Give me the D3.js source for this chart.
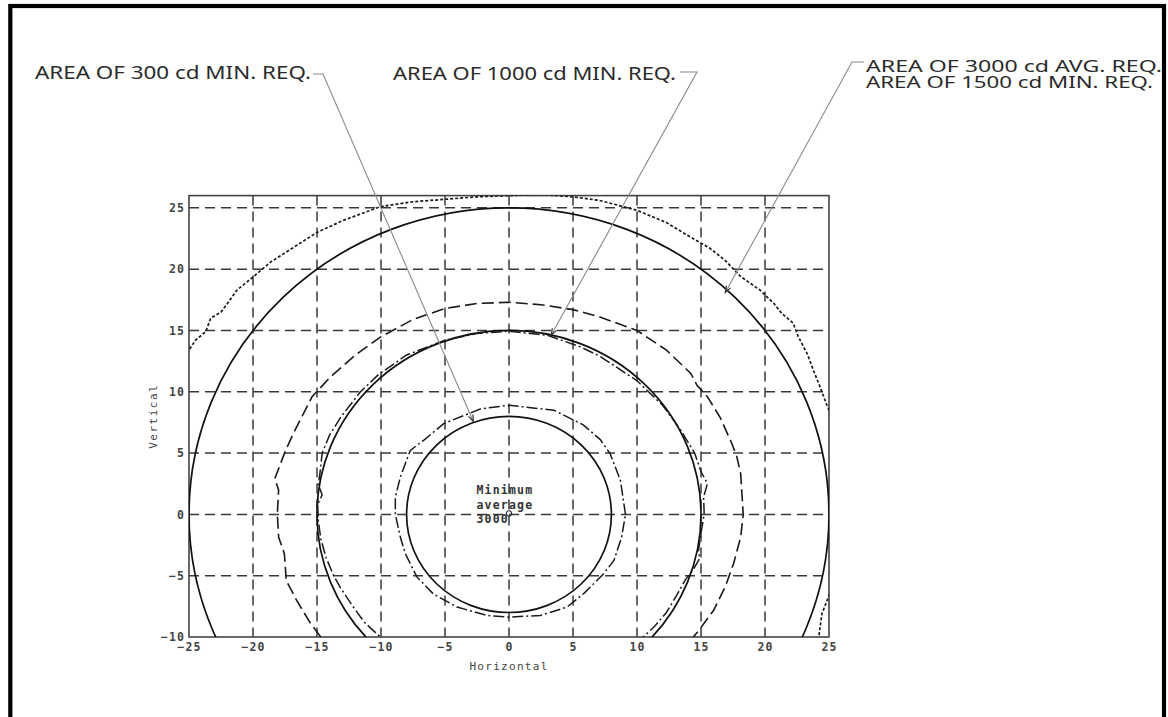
<!DOCTYPE html>
<html>
<head>
<meta charset="utf-8">
<script src="https://cdn.jsdelivr.net/npm/d3@7"></script>
<style>
  html, body { margin: 0; padding: 0; background: #fff; }
  svg { display: block; }
</style>
</head>
<body>
<svg id="chart" width="1168" height="717"></svg>
<script>
// Axis ticks (degrees)
const xTicks = [-25, -20, -15, -10, -5, 0, 5, 10, 15, 20, 25];
const yTicks = [-10, -5, 0, 5, 10, 15, 20, 25];
const xDomain = [-25, 25];
const yDomain = [-10, 26];

// Requirement circles (radius in degrees)
const requirementRadii = [25, 15, 8];

// Measured iso-candela contours [horizontal, vertical]
const contourOuter = [
  [-26.3, 11.0], [-25.0, 13.4], [-24.5, 14.2], [-23.7, 14.9], [-23.3, 16.0], [-22.5, 16.5],
  [-22.0, 17.2], [-21.25, 18.3], [-19.95, 19.4], [-18.6, 20.6], [-16.8, 21.8], [-15.0, 23.0],
  [-12.9, 24.0], [-10.05, 25.1], [-7.5, 25.5], [-5.0, 25.7], [-2.5, 25.9], [0, 26.0],
  [2.5, 26.1], [5.0, 25.9], [7.1, 25.6], [10.0, 24.8], [12.3, 23.8], [14.2, 22.6],
  [15.7, 21.7], [16.9, 20.7], [18.1, 19.4], [19.6, 18.3], [20.7, 17.2], [21.3, 16.4],
  [22.2, 15.6], [22.6, 14.5], [23.3, 13.1], [23.8, 11.7], [24.3, 10.4], [24.8, 9.0],
  [25.6, 7.0], [26.1, 3.0], [26.2, 0], [25.9, -3.5], [25.0, -6.6], [24.45, -8.1],
  [24.2, -10.0], [24.0, -11.0]
];
const contourMiddle = [
  [-13.8, -11.0], [-14.7, -10.0], [-15.5, -8.9], [-16.6, -7.0], [-17.4, -5.4], [-17.55, -3.2],
  [-18.0, -1.85], [-18.1, 0], [-18.0, 2.0], [-18.3, 2.9], [-17.5, 5.1], [-16.85, 6.6],
  [-15.4, 9.57], [-13.96, 11.2], [-12.0, 13.0], [-10.05, 14.46], [-7.5, 15.9], [-5.0, 16.8],
  [-2.5, 17.2], [0, 17.3], [2.5, 17.1], [5.0, 16.7], [7.1, 16.1], [10.0, 15.0],
  [12.3, 13.4], [14.2, 11.5], [14.7, 10.5], [15.5, 9.6], [16.5, 7.9], [17.4, 5.8],
  [17.8, 4.7], [18.1, 3.3], [18.3, 0], [18.1, -1.85], [17.55, -4.0], [16.9, -5.9],
  [16.0, -7.8], [14.8, -9.5], [14.4, -10.0], [13.8, -11.0]
];
const contourRing15 = [
  [-9.4, -10.8], [-10.05, -10.0], [-11.3, -8.8], [-12.2, -7.5], [-13.1, -6.1], [-13.7, -5.0],
  [-14.3, -3.5], [-14.7, -2.0], [-14.9, -0.5], [-14.95, 0.8], [-14.6, 1.6], [-14.9, 2.4],
  [-14.75, 3.5], [-14.6, 5.0], [-14.0, 6.5], [-13.1, 8.0], [-11.6, 10.0], [-10.2, 11.4],
  [-8.0, 13.0], [-5.0, 14.2], [-2.5, 14.75], [0, 14.95], [3.0, 14.6], [5.5, 13.7],
  [7.1, 12.9], [10.0, 10.9], [12.0, 8.9], [13.4, 6.9], [14.5, 5.0], [15.0, 3.5],
  [15.5, 2.5], [15.2, 1.4], [15.25, 0], [15.0, -1.5], [14.8, -3.0], [14.9, -3.6],
  [14.4, -4.5], [13.8, -5.3], [13.1, -6.6], [12.3, -8.0], [11.4, -9.1], [10.5, -10.0],
  [9.8, -10.8]
];
const contourRing9 = [
  [9.1, 0], [8.7, 2.8], [7.9, 4.95], [7.13, 6.1], [5.8, 7.3], [3.5, 8.5], [0, 8.9],
  [-2.24, 8.6], [-5.1, 7.4], [-6.67, 6.04], [-7.71, 5.22], [-8.49, 3.04], [-8.88, 1.41],
  [-8.88, 0], [-8.49, -1.85], [-8.1, -3.2], [-7.2, -5.1], [-5.9, -6.5], [-4.06, -7.56],
  [-1.72, -8.24], [0, -8.38], [2.45, -8.24], [4.53, -7.56], [5.9, -6.4], [7.4, -4.84],
  [8.2, -3.75], [8.8, -1.85]
];

// Centre annotation
const centreLines = ["Minimum", "average", "3000"];
const centrePoint = [0, 0];

// Callout labels and the point on the curve each one points to
const calloutLines = [
  ["AREA OF 300 cd MIN. REQ."],
  ["AREA OF 1000 cd MIN. REQ."],
  ["AREA OF 3000 cd AVG. REQ.", "AREA OF 1500 cd MIN. REQ."]
];
const calloutTargets = [[-2.79, 7.58], [3.3, 14.63], [16.9, 18.1]];

const svg = d3.select("#chart");
const H = 717;

// Page frame
svg.append("rect")
  .attr("x", 10.3).attr("y", 6).attr("width", 1153.7).attr("height", H + 20)
  .attr("fill", "none").attr("stroke", "#000").attr("stroke-width", 4.2);

const plot = { left: 189, right: 829, top: 195.6, bottom: 637 };
const x = d3.scaleLinear().domain(xDomain).range([plot.left, plot.right]);
const y = d3.scaleLinear().domain(yDomain).range([plot.bottom, plot.top]);

svg.append("defs").append("clipPath").attr("id", "plotClip")
  .append("rect")
  .attr("x", plot.left).attr("y", plot.top)
  .attr("width", plot.right - plot.left).attr("height", plot.bottom - plot.top);

const monoFont = "'DejaVu Sans Mono', 'Liberation Mono', monospace";
const inkGrey = "#3a3a3a";

// Grid
const grid = svg.append("g").attr("class", "grid");
grid.selectAll("line.v").data(xTicks.filter(d => d > xDomain[0] && d < xDomain[1]))
  .join("line").attr("class", "v")
  .attr("x1", d => x(d)).attr("x2", d => x(d))
  .attr("y1", plot.top).attr("y2", plot.bottom)
  .attr("stroke", inkGrey).attr("stroke-width", 1.5).attr("stroke-dasharray", "10,6");
grid.selectAll("line.h").data(yTicks.filter(d => d > yDomain[0]))
  .join("line").attr("class", "h")
  .attr("x1", plot.left).attr("x2", plot.right)
  .attr("y1", d => y(d)).attr("y2", d => y(d))
  .attr("stroke", inkGrey).attr("stroke-width", 1.5).attr("stroke-dasharray", "10,6");

// Axes
const xAxis = d3.axisBottom(x).tickValues(xTicks).tickSize(0).tickPadding(6);
const yAxis = d3.axisLeft(y).tickValues(yTicks).tickSize(0).tickPadding(4);
const gx = svg.append("g").attr("transform", `translate(0,${plot.bottom})`).call(xAxis);
const gy = svg.append("g").attr("transform", `translate(${plot.left},0)`).call(yAxis);
[gx, gy].forEach(g => {
  g.select(".domain").remove();
  g.selectAll("text")
    .attr("font-family", monoFont).attr("font-size", 11.5).attr("font-weight", "bold")
    .attr("letter-spacing", 1.1).attr("fill", "#444");
});

// Plot frame
svg.append("rect")
  .attr("x", plot.left).attr("y", plot.top)
  .attr("width", plot.right - plot.left).attr("height", plot.bottom - plot.top)
  .attr("fill", "none").attr("stroke", "#444").attr("stroke-width", 1.6);

// Axis titles
svg.append("text")
  .attr("x", x(0)).attr("y", 670).attr("text-anchor", "middle")
  .attr("font-family", monoFont).attr("font-size", 11).attr("letter-spacing", 1.3)
  .attr("fill", "#444").text("Horizontal");
svg.append("text")
  .attr("transform", `translate(157,${y(8.0)}) rotate(-90)`).attr("text-anchor", "middle")
  .attr("font-family", monoFont).attr("font-size", 11).attr("letter-spacing", 1.5)
  .attr("fill", "#444").text("Vertical");

// Curves
const curves = svg.append("g").attr("clip-path", "url(#plotClip)");
const lineGen = d3.line().x(d => x(d[0])).y(d => y(d[1]));
const closedGen = d3.line().x(d => x(d[0])).y(d => y(d[1])).curve(d3.curveLinearClosed);

curves.selectAll("ellipse.req").data(requirementRadii).join("ellipse")
  .attr("class", "req")
  .attr("cx", x(0)).attr("cy", y(0))
  .attr("rx", d => x(d) - x(0)).attr("ry", d => y(0) - y(d))
  .attr("fill", "none").attr("stroke", "#111").attr("stroke-width", 1.7);

curves.append("path").attr("d", lineGen(contourOuter))
  .attr("fill", "none").attr("stroke", "#1a1a1a").attr("stroke-width", 1.7)
  .attr("stroke-dasharray", "3,2");
curves.append("path").attr("d", lineGen(contourMiddle))
  .attr("fill", "none").attr("stroke", "#1a1a1a").attr("stroke-width", 1.6)
  .attr("stroke-dasharray", "12,5");
curves.append("path").attr("d", lineGen(contourRing15))
  .attr("fill", "none").attr("stroke", "#1a1a1a").attr("stroke-width", 1.5)
  .attr("stroke-dasharray", "11,3,2,3");
curves.append("path").attr("d", closedGen(contourRing9))
  .attr("fill", "none").attr("stroke", "#1a1a1a").attr("stroke-width", 1.5)
  .attr("stroke-dasharray", "11,3,2,3");

// Centre annotation
const centre = svg.append("g");
centre.selectAll("text").data(centreLines).join("text")
  .attr("x", x(centrePoint[0]) - 32.5)
  .attr("y", (d, i) => y(centrePoint[1]) - 20 + i * 14.5)
  .attr("font-family", monoFont).attr("font-size", 11.5).attr("font-weight", "bold")
  .attr("letter-spacing", 1.2).attr("fill", "#333").text(d => d);
centre.append("circle")
  .attr("cx", x(centrePoint[0])).attr("cy", y(centrePoint[1]) - 1).attr("r", 2.6)
  .attr("fill", "none").attr("stroke", "#333").attr("stroke-width", 1.1);

// Callouts: label text, leader line and a small tip at the curve
const labelFont = "'Noto Sans', 'DejaVu Sans', sans-serif";
const calloutLayout = [
  { x: 35, y: 79, size: 17.5, widths: [276], leader: [[313, 74], [323, 74]] },
  { x: 393, y: 80, size: 17.5, widths: [283], leader: [[680, 72], [697, 72]] },
  { x: 866, y: 71.5, size: 16.5, widths: [296, 287], leader: [[864, 62], [852, 62]] }
];
const callouts = svg.append("g");
calloutLines.forEach((lines, i) => {
  const lay = calloutLayout[i];
  const t = callouts.append("text")
    .attr("font-family", labelFont).attr("font-size", lay.size)
    .attr("fill", "#2a2a2a");
  lines.forEach((line, j) => {
    t.append("tspan")
      .attr("x", lay.x).attr("y", lay.y + j * 16.5)
      .attr("textLength", lay.widths[j]).attr("lengthAdjust", "spacingAndGlyphs")
      .text(line);
  });
  const target = calloutTargets[i];
  const pts = lay.leader.concat([[x(target[0]), y(target[1])]]);
  callouts.append("path")
    .attr("d", d3.line()(pts))
    .attr("fill", "none").attr("stroke", "#8a8a8a").attr("stroke-width", 1.1);
  const [px, py] = pts[pts.length - 1];
  const [qx, qy] = pts[pts.length - 2];
  const ang = Math.atan2(py - qy, px - qx);
  const len = 7, spread = 0.35;
  callouts.append("path")
    .attr("d", d3.line()([
      [px - len * Math.cos(ang - spread), py - len * Math.sin(ang - spread)],
      [px, py],
      [px - len * Math.cos(ang + spread), py - len * Math.sin(ang + spread)]
    ]))
    .attr("fill", "none").attr("stroke", "#333").attr("stroke-width", 1.2);
});
</script>
</body>
</html>
